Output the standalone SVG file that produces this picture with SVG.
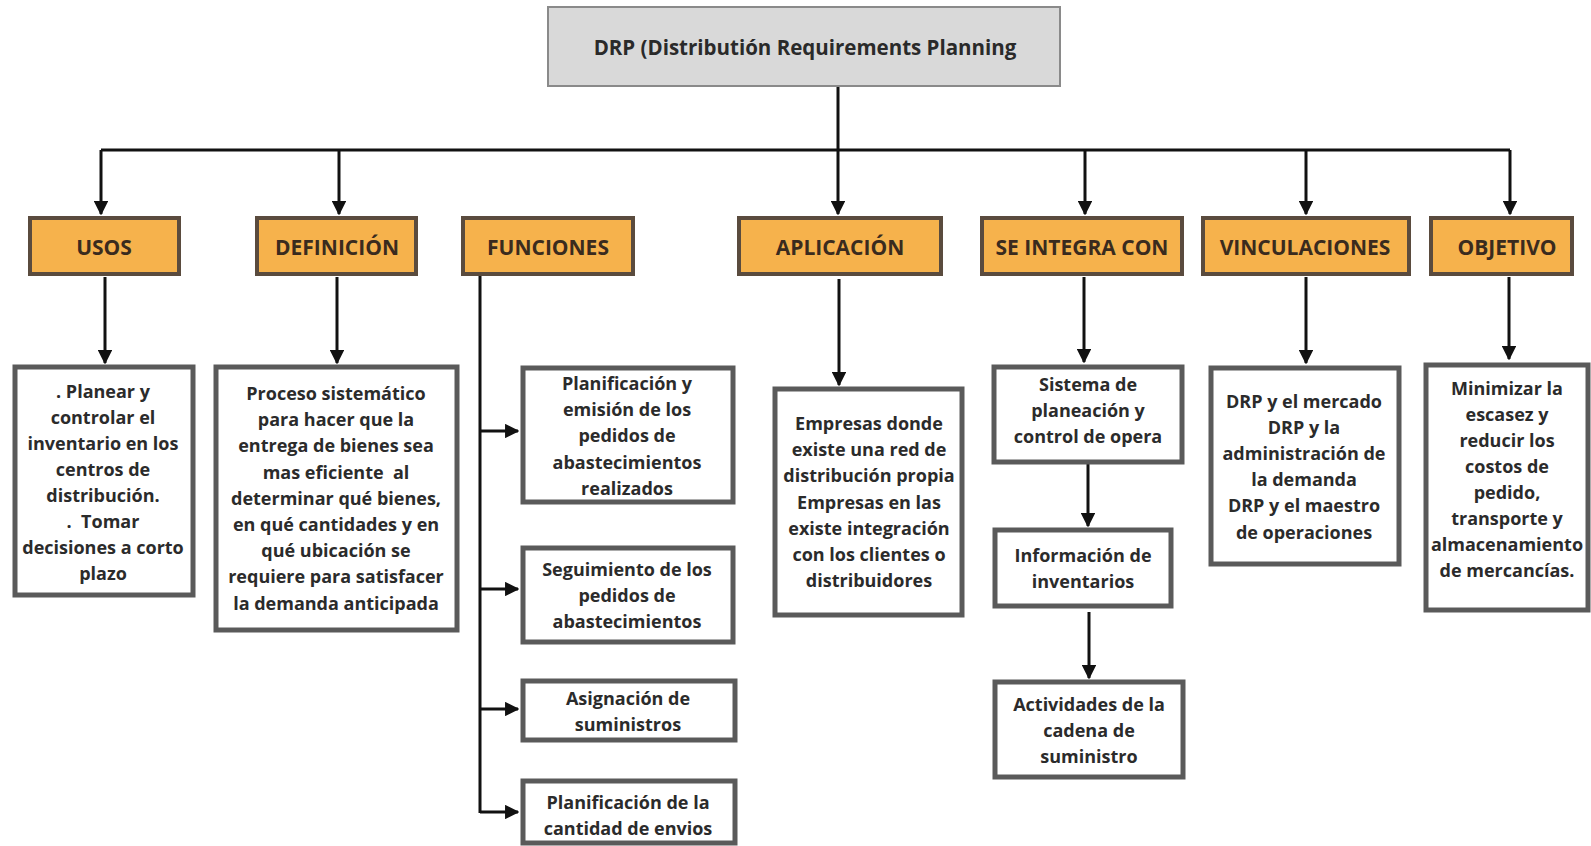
<svg xmlns="http://www.w3.org/2000/svg" width="1591" height="846" viewBox="0 0 1591 846">
<style>
.bg{fill:#ffffff}
.title{fill:#d9d9d9;stroke:#8a8a8a;stroke-width:2}
.hdr{fill:#f6b24c;stroke:#5a4b3e;stroke-width:4}
.box{fill:#ffffff;stroke:#5a5a5a;stroke-width:5}
.ht{font-family:"Open Sans","Liberation Sans",sans-serif;font-weight:700;font-size:21px;fill:#3a2b1e;text-anchor:middle;dominant-baseline:central}
.tt{font-family:"Open Sans","Liberation Sans",sans-serif;font-weight:700;font-size:20.5px;fill:#2a2a2a;text-anchor:middle;dominant-baseline:central}
.bt{font-family:"Open Sans","Liberation Sans",sans-serif;font-weight:700;font-size:18px;fill:#2b2b2b;text-anchor:middle;dominant-baseline:central;white-space:pre}
.ln{stroke:#111111;stroke-width:3;fill:none}
.la{stroke:#111111;stroke-width:3;fill:none;marker-end:url(#ah)}
</style>
<defs>
<marker id="ah" viewBox="0 0 10 10" refX="9" refY="5" markerWidth="4.8" markerHeight="4.8" orient="auto" markerUnits="strokeWidth">
<path d="M0,0 L10,5 L0,10 z" fill="#111111"/>
</marker>
</defs>
<rect class="bg" x="0" y="0" width="1591" height="846"/>

<g id="connectors">
<line class="ln" x1="838" y1="86" x2="838" y2="150"/>
<line class="ln" x1="101" y1="150" x2="1510" y2="150"/>
<line class="la" x1="101" y1="150" x2="101" y2="214"/>
<line class="la" x1="339" y1="150" x2="339" y2="214"/>
<line class="la" x1="838" y1="150" x2="838" y2="214"/>
<line class="la" x1="1085" y1="150" x2="1085" y2="214"/>
<line class="la" x1="1306" y1="150" x2="1306" y2="214"/>
<line class="la" x1="1510" y1="150" x2="1510" y2="214"/>

<line class="la" x1="105" y1="277" x2="105" y2="363"/>
<line class="la" x1="337" y1="277" x2="337" y2="363"/>
<line class="ln" x1="480" y1="275" x2="480" y2="813"/>
<line class="la" x1="480" y1="431" x2="518" y2="431"/>
<line class="la" x1="480" y1="589" x2="518" y2="589"/>
<line class="la" x1="480" y1="709" x2="518" y2="709"/>
<line class="la" x1="480" y1="812" x2="518" y2="812"/>
<line class="la" x1="839" y1="279" x2="839" y2="385"/>
<line class="la" x1="1084" y1="277" x2="1084" y2="362"/>
<line class="la" x1="1088" y1="464" x2="1088" y2="526"/>
<line class="la" x1="1089" y1="612" x2="1089" y2="678"/>
<line class="la" x1="1306" y1="277" x2="1306" y2="363"/>
<line class="la" x1="1509" y1="277" x2="1509" y2="359"/>
</g>

<g id="n-title">
<rect class="title" x="548" y="7" width="512" height="79"/>
<text class="tt" x="805" y="47">DRP (Distributión Requirements Planning</text>
</g>

<g id="h-usos"><rect class="hdr" x="30" y="218" width="149" height="56"/><text class="ht" x="104" y="247">USOS</text></g>
<g id="h-definicion"><rect class="hdr" x="257" y="218" width="159" height="56"/><text class="ht" x="337" y="247">DEFINICIÓN</text></g>
<g id="h-funciones"><rect class="hdr" x="463" y="218" width="170" height="56"/><text class="ht" x="548" y="247">FUNCIONES</text></g>
<g id="h-aplicacion"><rect class="hdr" x="739" y="218" width="202" height="56"/><text class="ht" x="840" y="247">APLICACIÓN</text></g>
<g id="h-integra"><rect class="hdr" x="982" y="218" width="200" height="56"/><text class="ht" x="1082" y="247">SE INTEGRA CON</text></g>
<g id="h-vinculaciones"><rect class="hdr" x="1203" y="218" width="206" height="56"/><text class="ht" x="1305" y="247">VINCULACIONES</text></g>
<g id="h-objetivo"><rect class="hdr" x="1431" y="218" width="141" height="56"/><text class="ht" x="1507" y="247">OBJETIVO</text></g>

<g id="d-usos">
<rect class="box" x="15" y="367" width="178" height="228"/>
<text class="bt"><tspan x="103" y="391">. Planear y</tspan><tspan x="103" y="417">controlar el</tspan><tspan x="103" y="443">inventario en los</tspan><tspan x="103" y="469">centros de</tspan><tspan x="103" y="495">distribución.</tspan><tspan x="103" y="521">.  Tomar</tspan><tspan x="103" y="547">decisiones a corto</tspan><tspan x="103" y="573">plazo</tspan></text>
</g>

<g id="d-definicion">
<rect class="box" x="216" y="367" width="241" height="263"/>
<text class="bt"><tspan x="336" y="393">Proceso sistemático</tspan><tspan x="336" y="419">para hacer que la</tspan><tspan x="336" y="445">entrega de bienes sea</tspan><tspan x="336" y="472">mas eficiente  al</tspan><tspan x="336" y="498">determinar qué bienes,</tspan><tspan x="336" y="524">en qué cantidades y en</tspan><tspan x="336" y="550">qué ubicación se</tspan><tspan x="336" y="576">requiere para satisfacer</tspan><tspan x="336" y="603">la demanda anticipada</tspan></text>
</g>

<g id="f1">
<rect class="box" x="523" y="368" width="210" height="134"/>
<text class="bt"><tspan x="627" y="383">Planificación y</tspan><tspan x="627" y="409">emisión de los</tspan><tspan x="627" y="435">pedidos de</tspan><tspan x="627" y="462">abastecimientos</tspan><tspan x="627" y="488">realizados</tspan></text>
</g>
<g id="f2">
<rect class="box" x="523" y="548" width="210" height="94"/>
<text class="bt"><tspan x="627" y="569">Seguimiento de los</tspan><tspan x="627" y="595">pedidos de</tspan><tspan x="627" y="621">abastecimientos</tspan></text>
</g>
<g id="f3">
<rect class="box" x="523" y="681" width="212" height="59"/>
<text class="bt"><tspan x="628" y="698">Asignación de</tspan><tspan x="628" y="724">suministros</tspan></text>
</g>
<g id="f4">
<rect class="box" x="523" y="781" width="212" height="62"/>
<text class="bt"><tspan x="628" y="802">Planificación de la</tspan><tspan x="628" y="828">cantidad de envios</tspan></text>
</g>

<g id="d-aplicacion">
<rect class="box" x="775" y="389" width="187" height="226"/>
<text class="bt"><tspan x="869" y="423">Empresas donde</tspan><tspan x="869" y="449">existe una red de</tspan><tspan x="869" y="475">distribución propia</tspan><tspan x="869" y="502">Empresas en las</tspan><tspan x="869" y="528">existe integración</tspan><tspan x="869" y="554">con los clientes o</tspan><tspan x="869" y="580">distribuidores</tspan></text>
</g>

<g id="s1">
<rect class="box" x="994" y="367" width="188" height="95"/>
<text class="bt"><tspan x="1088" y="384">Sistema de</tspan><tspan x="1088" y="410">planeación y</tspan><tspan x="1088" y="436">control de opera</tspan></text>
</g>
<g id="s2">
<rect class="box" x="995" y="530" width="176" height="76"/>
<text class="bt"><tspan x="1083" y="555">Información de</tspan><tspan x="1083" y="581">inventarios</tspan></text>
</g>
<g id="s3">
<rect class="box" x="995" y="682" width="188" height="95"/>
<text class="bt"><tspan x="1089" y="704">Actividades de la</tspan><tspan x="1089" y="730">cadena de</tspan><tspan x="1089" y="756">suministro</tspan></text>
</g>

<g id="d-vinculaciones">
<rect class="box" x="1211" y="368" width="188" height="196"/>
<text class="bt"><tspan x="1304" y="401">DRP y el mercado</tspan><tspan x="1304" y="427">DRP y la</tspan><tspan x="1304" y="453">administración de</tspan><tspan x="1304" y="479">la demanda</tspan><tspan x="1304" y="505">DRP y el maestro</tspan><tspan x="1304" y="532">de operaciones</tspan></text>
</g>

<g id="d-objetivo">
<rect class="box" x="1426" y="365" width="162" height="245"/>
<text class="bt"><tspan x="1507" y="388">Minimizar la</tspan><tspan x="1507" y="414">escasez y</tspan><tspan x="1507" y="440">reducir los</tspan><tspan x="1507" y="466">costos de</tspan><tspan x="1507" y="492">pedido,</tspan><tspan x="1507" y="518">transporte y</tspan><tspan x="1507" y="544">almacenamiento</tspan><tspan x="1507" y="570">de mercancías.</tspan></text>
</g>
</svg>
